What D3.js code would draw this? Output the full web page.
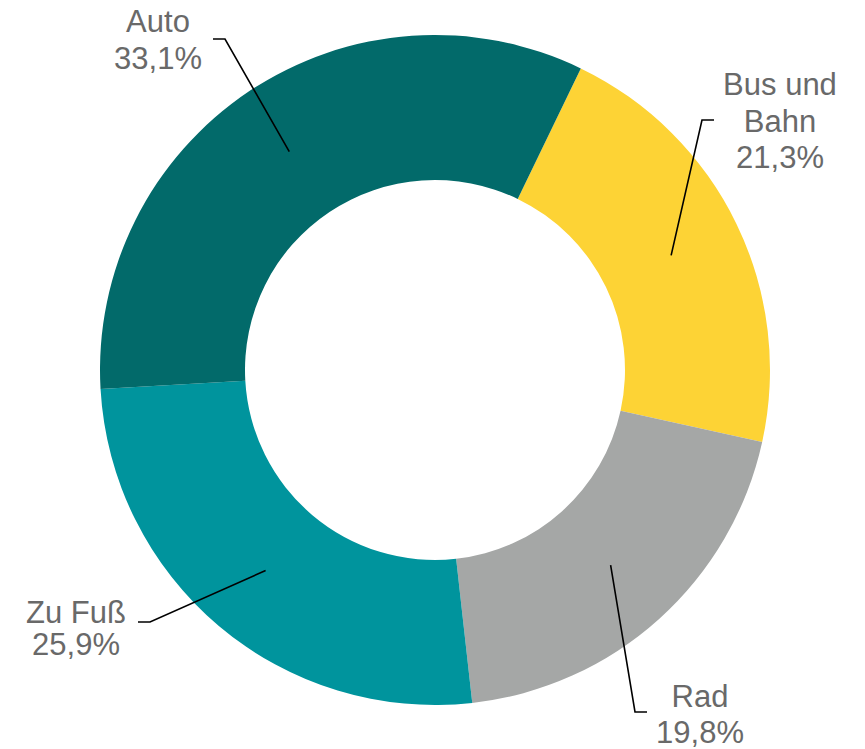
<!DOCTYPE html>
<html>
<head>
<meta charset="utf-8">
<script src="https://cdn.jsdelivr.net/npm/d3@7"></script>
<style>
  body { margin: 0; background: #fff; }
  svg { display: block; }
  .lbl { font-family: "Liberation Sans", Arial, sans-serif; font-size: 31px; fill: #696969; }
</style>
</head>
<body>
<div id="chart"></div>
<script>
// data, in drawing order (clockwise from the start angle)
let categories = ["Bus und Bahn", "Rad", "Zu Fuß", "Auto"];
let shares = [21.3, 19.8, 25.9, 33.1];
let labelLines = [["Bus und", "Bahn", "21,3%"], ["Rad", "19,8%"], ["Zu Fuß", "25,9%"], ["Auto", "33,1%"]];
let colors = ["#FDD335", "#A5A7A6", "#00949D", "#026A6A"];

let width = 865, height = 749;
let cx = 435, cy = 370;
let outerR = 335, innerR = 190;

// label placement: text centre x, first baseline, line step, and the knee of the leader line
let labelPos = [
    {x: 780, y: 95, step: 36.5, knee: [702, 120], end: [714, 120]},
    {x: 700, y: 707, step: 36, knee: [635, 712], end: [647, 712]},
    {x: 76, y: 623, step: 32, knee: [150, 622], end: [138, 622]},
    {x: 158, y: 32, step: 37, knee: [225, 39], end: [213, 39]}
];

let svg = d3.select("#chart").append("svg")
    .attr("width", width)
    .attr("height", height);

let g = svg.append("g")
    .attr("transform", "translate(" + cx + "," + cy + ")");

let startA = 25.8 * Math.PI / 180;
let pie = d3.pie()
    .sort(null)
    .startAngle(startA)
    .endAngle(startA + 2 * Math.PI)
    .value(d => d);

let arc = d3.arc()
    .innerRadius(innerR)
    .outerRadius(outerR);

let arcs = pie(shares);

g.selectAll("path.slice")
    .data(arcs)
    .enter()
    .append("path")
    .attr("class", "slice")
    .attr("d", arc)
    .attr("fill", (d, i) => colors[i]);

// leader lines from the slice centroid to the label
svg.selectAll("polyline.leader")
    .data(arcs)
    .enter()
    .append("polyline")
    .attr("class", "leader")
    .attr("fill", "none")
    .attr("stroke", "#000")
    .attr("stroke-width", 1.6)
    .attr("points", function (d, i) {
        let c = arc.centroid(d);
        let p = labelPos[i];
        return [[cx + c[0], cy + c[1]], p.knee, p.end].map(q => q.join(",")).join(" ");
    });

// labels
labelLines.forEach(function (lines, i) {
    let p = labelPos[i];
    let t = svg.append("text")
        .attr("class", "lbl")
        .attr("text-anchor", "middle");
    lines.forEach(function (s, j) {
        t.append("tspan")
            .attr("x", p.x)
            .attr("y", p.y + j * p.step)
            .text(s);
    });
});
</script>
</body>
</html>
